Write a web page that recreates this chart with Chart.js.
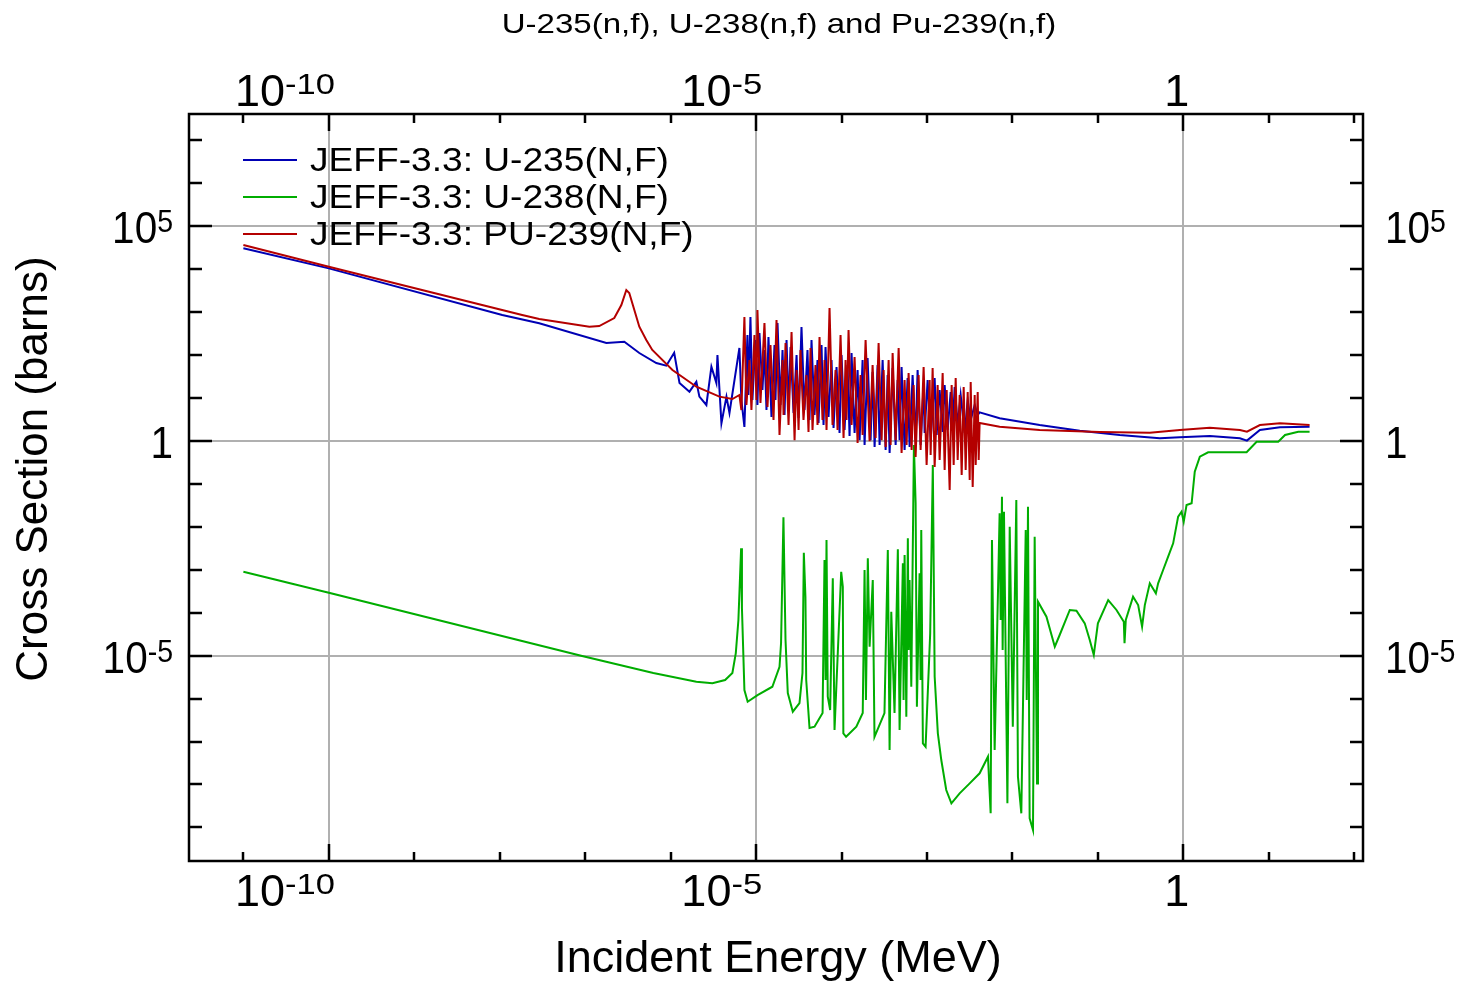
<!DOCTYPE html>
<html>
<head>
<meta charset="utf-8">
<title>U-235(n,f), U-238(n,f) and Pu-239(n,f)</title>
<script src="https://cdn.jsdelivr.net/npm/chart.js@4.4.0/dist/chart.umd.min.js"></script>
<style>
  html, body { margin: 0; padding: 0; background: #fff; }
  #wrap { width: 1474px; height: 982px; }
</style>
</head>
<body>
<div id="wrap"><canvas id="chart" width="1474" height="982"></canvas></div>
<script>
// [energy (MeV), cross section (barns)]
const u235 = [
  [1e-11, 3.08e4], [1e-10, 1.05e4], [1.07e-8, 861], [2.9e-8, 552], [1.77e-7, 192], [2.87e-7, 206],
  [4.3e-7, 112], [6.8e-7, 65.6], [8.9e-7, 56.8], [1.1e-6, 114], [1.27e-6, 22.4], [1.66e-6, 14.1],
  [2.0e-6, 24.1], [2.17e-6, 10.8], [2.62e-6, 6.9], [3.0e-6, 53.8], [3.43e-6, 22.4], [3.53e-6, 101],
  [3.93e-6, 2.58], [4.5e-6, 10.8], [4.88e-6, 4.49], [6.38e-6, 147], [6.73e-6, 9.0],
  [7.30e-6, 2.12], [7.92e-6, 295], [8.13e-6, 11.8], [8.59e-6, 773], [9.06e-6, 9.02], [9.83e-6, 225],
  [1.037e-5, 6.90], [1.095e-5, 328], [1.187e-5, 15.4], [1.253e-5, 132], [1.323e-5, 5.27], [1.396e-5, 265],
  [1.514e-5, 3.62], [1.642e-5, 172], [1.687e-5, 9.02], [1.781e-5, 561], [1.931e-5, 6.90], [2.039e-5, 132],
  [2.152e-5, 4.03], [2.272e-5, 225], [2.398e-5, 5.27], [2.531e-5, 155], [2.745e-5, 4.49], [2.977e-5, 101],
  [3.142e-5, 3.43], [3.399e-5, 453], [3.685e-5, 5.27], [3.996e-5, 132], [4.218e-5, 3.08], [4.452e-5, 225],
  [4.828e-5, 4.03], [5.235e-5, 77.1], [5.378e-5, 2.63], [5.831e-5, 172], [6.155e-5, 2.36], [6.496e-5, 155],
  [7.044e-5, 3.62], [7.638e-5, 77.1], [8.061e-5, 2.01], [8.741e-5, 52.9], [9.478e-5, 1.54], [1.0e-4, 101],
  [1.085e-4, 1.80], [1.176e-4, 58.9], [1.241e-4, 1.31], [1.310e-4, 112], [1.421e-4, 1.54], [1.541e-4, 45.1],
  [1.626e-4, 1.05], [1.763e-4, 77.1], [1.861e-4, 0.807], [2.018e-4, 86.0], [2.188e-4, 1.05], [2.309e-4, 40.5],
  [2.437e-4, 0.725], [2.643e-4, 58.9], [2.789e-4, 0.807], [3.025e-4, 77.1], [3.280e-4, 0.617], [3.461e-4, 34.5],
  [3.653e-4, 0.525], [3.961e-4, 50.2], [4.296e-4, 0.807], [4.534e-4, 26.4], [4.778e-4, 1.05], [5.043e-4, 52.9],
  [5.468e-4, 0.617], [5.930e-4, 29.4], [6.258e-4, 0.725], [6.786e-4, 34.5], [7.358e-4, 1.05], [7.766e-4, 45.1],
  [8.421e-4, 0.807], [9.131e-4, 20.2], [9.381e-4, 1.54], [1.017e-3, 26.4], [1.103e-3, 1.05], [1.229e-3, 29.4],
  [1.297e-3, 1.38], [1.406e-3, 15.4], [1.525e-3, 1.62], [1.609e-3, 20.2], [1.745e-3, 1.80], [1.892e-3, 13.8],
  [1.997e-3, 2.01], [2.108e-3, 18.1], [2.286e-3, 2.36], [2.478e-3, 11.8], [2.761e-3, 1.54], [2.994e-3, 9.02],
  [3.246e-3, 3.08], [3.616e-3, 6.90], [3.921e-3, 4.03], [4.13e-3, 4.66],
  [7.08e-3, 3.38], [2.08e-2, 2.36], [6.14e-2, 1.74], [0.18, 1.38], [0.53, 1.16], [0.91, 1.22],
  [2.04, 1.31], [4.59, 1.16], [5.55, 1.02], [7.87, 1.8], [13.5, 2.08], [30, 2.15]
];

const u238 = [
  [1e-11, 9.0e-4], [1e-10, 2.92e-4], [9.2e-8, 9.8e-6], [6.27e-7, 3.94e-6], [2.0e-6, 2.47e-6], [3.08e-6, 2.27e-6],
  [4.34e-6, 2.71e-6], [5.28e-6, 3.94e-6], [5.79e-6, 1.15e-5], [6.21e-6, 6.76e-5], [6.68e-6, 3.17e-3], [6.83e-6, 1.29e-4],
  [7.3e-6, 1.58e-6], [7.97e-6, 8.46e-7], [1.04e-5, 1.21e-6], [1.55e-5, 1.89e-6], [1.88e-5, 5.53e-6], [1.96e-5, 1.97e-5],
  [2.09e-5, 1.67e-2], [2.21e-5, 2.32e-5], [2.35e-5, 1.35e-6], [2.69e-5, 4.95e-7], [3.22e-5, 7.89e-7], [3.49e-5, 3.94e-6],
  [3.62e-5, 2.5e-3], [3.78e-5, 2.36e-4], [3.86e-5, 2.71e-6], [4.22e-5, 2.06e-7], [4.83e-5, 2.21e-7], [6.0e-5, 4.61e-7],
  [6.32e-5, 1.69e-3], [6.5e-5, 2.71e-6], [6.67e-5, 4.94e-3], [6.9e-5, 1.11e-6], [7.36e-5, 5.42e-7], [7.9e-5, 6.34e-4],
  [8.28e-5, 1.85e-7], [9.91e-5, 9.0e-4], [1.035e-4, 4.04e-4], [1.05e-4, 1.55e-7], [1.13e-4, 1.29e-7], [1.49e-4, 2.21e-7],
  [1.77e-4, 4.61e-7], [1.86e-4, 9.89e-4], [1.93e-4, 9.27e-7], [2.03e-4, 1.85e-3], [2.13e-4, 1.62e-5], [2.32e-4, 5.78e-4],
  [2.43e-4, 1.29e-7], [3.18e-4, 4.61e-7], [3.48e-4, 2.89e-3], [3.65e-4, 6.34e-8], [3.82e-4, 1.06e-4], [4.17e-4, 4.61e-7],
  [4.56e-4, 3.0e-3], [4.78e-4, 1.85e-7], [5.22e-4, 1.42e-3], [5.32e-4, 9.27e-7], [5.47e-4, 2.21e-3], [5.73e-4, 3.78e-7],
  [5.97e-4, 5.42e-3], [6.09e-4, 1.35e-5], [6.25e-4, 5.78e-4], [6.55e-4, 1.89e-6], [7.03e-4, 0.807], [7.36e-4, 3.54e-2],
  [7.62e-4, 6.47e-7], [8.19e-4, 8.28e-4], [8.41e-4, 2.71e-6], [8.57e-4, 8.45e-3], [8.95e-4, 9.08e-8], [9.63e-4, 7.57e-8],
  [1.09e-3, 3.32e-5], [1.17e-3, 0.276], [1.23e-3, 3.24e-6], [1.34e-3, 1.55e-7], [1.47e-3, 3.71e-8], [1.68e-3, 7.42e-9],
  [1.93e-3, 3.64e-9], [2.41e-3, 6.22e-9], [3.16e-3, 1.06e-8], [4.13e-3, 1.82e-8], [5.17e-3, 4.43e-8], [5.56e-3, 2.13e-9],
  [5.76e-3, 4.94e-3], [6.19e-3, 6.34e-8], [7.08e-3, 2.07e-2], [7.28e-3, 6.76e-5], [7.54e-3, 5.04e-2], [7.68e-3, 1.35e-5],
  [7.96e-3, 2.25e-2], [8.73e-3, 3.64e-9], [9.29e-3, 1.01e-2], [1.01e-2, 2.21e-7], [1.11e-2, 4.22e-2], [1.16e-2, 1.51e-8],
  [1.27e-2, 2.13e-9], [1.43e-2, 8.45e-3], [1.47e-2, 9.27e-7], [1.52e-2, 2.95e-2], [1.59e-2, 1.63e-9], [1.74e-2, 8.69e-10],
  [1.82e-2, 5.9e-3], [1.94e-2, 1.06e-8], [1.99e-2, 1.81e-4], [2.5e-2, 8.07e-5], [3.13e-2, 1.62e-5], [3.57e-2, 3.03e-5],
  [4.69e-2, 1.16e-4], [5.61e-2, 1.11e-4], [7.02e-2, 5.67e-5], [8.03e-2, 2.32e-5], [8.95e-2, 1.04e-5], [0.1, 5.67e-5],
  [0.132, 1.98e-4], [0.165, 1.16e-4], [0.201, 6.18e-5], [0.205, 1.94e-5], [0.212, 6.76e-5], [0.258, 2.36e-4],
  [0.296, 1.51e-4], [0.329, 4.72e-5], [0.354, 1.51e-4], [0.405, 4.84e-4], [0.477, 2.83e-4], [0.507, 4.84e-4],
  [0.58, 9.89e-4], [0.664, 2.02e-3], [0.76, 4.14e-3], [0.869, 1.73e-2], [0.953, 2.25e-2], [1.01, 1.32e-2],
  [1.09, 3.23e-2], [1.25, 3.54e-2], [1.36, 0.193], [1.56, 0.431], [1.95, 0.546], [5.5, 0.546],
  [7.2, 0.963], [12.9, 0.963], [15.5, 1.38], [22.1, 1.65], [30, 1.65]
];

const pu239 = [
  [1e-11, 3.68e4], [1e-10, 1.15e4], [1.83e-8, 861], [2.9e-8, 695], [1.12e-7, 460], [1.46e-7, 477],
  [2.19e-7, 733], [2.65e-7, 1470], [3.03e-7, 3.29e3], [3.28e-7, 2.8e3], [3.76e-7, 1.13e3], [4.3e-7, 460],
  [5.19e-7, 225], [6.1e-7, 132], [1.05e-6, 45.1], [2.0e-6, 18.4], [3.72e-6, 10.8], [5.28e-6, 9.5],
  [6.38e-6, 11.8], [6.73e-6, 5.27],
  [7.30e-6, 773], [7.71e-6, 6.90], [8.36e-6, 77.1], [8.82e-6, 5.27], [9.57e-6, 295], [1.010e-5, 9.02],
  [1.037e-5, 1125], [1.125e-5, 7.68], [1.253e-5, 561], [1.359e-5, 6.2], [1.474e-5, 172], [1.599e-5, 3.08],
  [1.734e-5, 659], [1.880e-5, 1.38], [2.039e-5, 77.1], [2.095e-5, 4.03], [2.211e-5, 191], [2.398e-5, 2.36],
  [2.600e-5, 346], [2.820e-5, 1.05], [2.977e-5, 45.1], [3.142e-5, 1.80], [3.308e-5, 132], [3.587e-5, 3.08],
  [3.890e-5, 34.5], [4.106e-5, 1.62], [4.333e-5, 147], [4.574e-5, 1.80], [4.960e-5, 58.9], [5.235e-5, 2.36],
  [5.525e-5, 265], [5.991e-5, 3.08], [6.323e-5, 77.1], [6.674e-5, 1.80], [7.237e-5, 1252], [7.847e-5, 2.36],
  [8.508e-5, 45.1], [8.980e-5, 1.80], [9.737e-5, 295], [1.056e-4, 1.17], [1.114e-4, 77.1], [1.145e-4, 3.08],
  [1.208e-4, 385], [1.310e-4, 2.36], [1.421e-4, 90.7], [1.541e-4, 0.898], [1.670e-4, 34.5], [1.763e-4, 1.38],
  [1.912e-4, 225], [2.130e-4, 0.995], [2.309e-4, 58.9], [2.504e-4, 1.17], [2.715e-4, 191], [2.944e-4, 1.05],
  [3.107e-4, 45.1], [3.280e-4, 0.725], [3.556e-4, 77.1], [3.753e-4, 0.807], [3.961e-4, 112], [4.296e-4, 1.05],
  [4.658e-4, 147], [5.043e-4, 0.525], [5.468e-4, 26.4], [5.772e-4, 0.807], [6.092e-4, 38.4], [6.605e-4, 0.617],
  [6.972e-4, 20.2], [7.358e-4, 0.424], [7.979e-4, 34.5], [8.421e-4, 0.617], [9.131e-4, 52.9], [9.901e-4, 0.276],
  [1.074e-3, 26.4], [1.103e-3, 0.472], [1.164e-3, 50.2], [1.229e-3, 0.248], [1.332e-3, 20.2], [1.406e-3, 0.361],
  [1.525e-3, 38.4], [1.609e-3, 0.211], [1.699e-3, 15.4], [1.842e-3, 0.0722], [1.944e-3, 20.2], [2.052e-3, 0.276],
  [2.166e-3, 29.4], [2.286e-3, 0.361], [2.412e-3, 11.8], [2.546e-3, 0.161], [2.687e-3, 18.1], [2.836e-3, 0.211],
  [2.994e-3, 13.8], [3.160e-3, 0.123], [3.246e-3, 23.7], [3.426e-3, 0.0848], [3.616e-3, 11.8], [3.715e-3, 0.276],
  [3.921e-3, 13.8], [4.028e-3, 0.361], [4.13e-3, 2.63],
  [7.08e-3, 2.15], [2.08e-2, 1.8], [0.105, 1.62], [0.405, 1.56], [0.91, 1.8], [2.04, 2.04],
  [4.59, 1.8], [5.55, 1.65], [7.87, 2.36], [13.5, 2.58], [30, 2.36]
];

const seriesNames = ['JEFF-3.3: U-235(N,F)', 'JEFF-3.3: U-238(N,F)', 'JEFF-3.3: PU-239(N,F)'];
const seriesColors = ['#0000b4', '#00ad00', '#b40000'];
const chartTitle = 'U-235(n,f), U-238(n,f) and Pu-239(n,f)';
const xTitle = 'Incident Energy (MeV)';
const yTitle = 'Cross Section (barns)';

// axis decades: every decade gets a tick, a few get a label and a grid line
const xTickDecades = [-11, -10, -9, -8, -7, -6, -5, -4, -3, -2, -1, 0, 1, 2];
const yTickDecades = [-9, -8, -7, -6, -5, -4, -3, -2, -1, 0, 1, 2, 3, 4, 5, 6, 7];
const xLabelDecades = [-10, -5, 0];
const yLabelDecades = [5, 0, -5];

const FONT = '"Liberation Sans", Arial, Helvetica, sans-serif';

function textAt(ctx, str, x, y, size, align, sx) {
  sx = sx || 1;
  ctx.save();
  ctx.font = size + 'px ' + FONT;
  const w = ctx.measureText(str).width * sx;
  const left = align === 'center' ? x - w / 2 : align === 'right' ? x - w : x;
  ctx.translate(left, y);
  ctx.scale(sx, 1);
  ctx.fillStyle = '#000';
  ctx.textAlign = 'left';
  ctx.textBaseline = 'alphabetic';
  ctx.fillText(str, 0, 0);
  ctx.restore();
  return w;
}

function widthOf(ctx, str, size, sx) {
  ctx.font = size + 'px ' + FONT;
  return ctx.measureText(str).width * (sx || 1);
}

// "10" with a raised exponent, or "1" for 10^0
function powerLabel(ctx, exp, x, y, align, base, sup, rise, sx, supSx) {
  const b = exp === 0 ? '1' : '10';
  const s = exp === 0 ? '' : String(exp);
  const wb = widthOf(ctx, b, base, sx);
  const ws = s ? widthOf(ctx, s, sup, supSx) : 0;
  const total = wb + ws;
  const left = align === 'right' ? x - total : align === 'center' ? x - total / 2 : x;
  textAt(ctx, b, left, y, base, 'left', sx);
  if (s) textAt(ctx, s, left + wb, y - rise, sup, 'left', supSx);
}

const framePlugin = {
  id: 'frame',
  afterDraw(chart) {
    const { ctx, chartArea: a } = chart;
    const xs = chart.scales.x, ys = chart.scales.y;
    ctx.save();
    ctx.strokeStyle = '#000';
    ctx.lineWidth = 2.5;
    ctx.strokeRect(a.left, a.top, a.right - a.left, a.bottom - a.top);

    ctx.beginPath();
    xTickDecades.forEach(d => {
      const px = Math.round(xs.getPixelForValue(Math.pow(10, d)));
      const len = xLabelDecades.includes(d) ? 17 : 9;
      ctx.moveTo(px, a.bottom); ctx.lineTo(px, a.bottom - len);
      ctx.moveTo(px, a.top); ctx.lineTo(px, a.top + len);
    });
    yTickDecades.forEach(d => {
      const py = Math.round(ys.getPixelForValue(Math.pow(10, d)));
      const len = yLabelDecades.includes(d) ? 23 : 13;
      ctx.moveTo(a.left, py); ctx.lineTo(a.left + len, py);
      ctx.moveTo(a.right, py); ctx.lineTo(a.right - len, py);
    });
    ctx.stroke();

    // tick labels
    xLabelDecades.forEach(d => {
      const px = xs.getPixelForValue(Math.pow(10, d));
      powerLabel(ctx, d, px + 6, a.bottom + 45, 'right', 45, 30, 12, 1.0, 1.15);
      powerLabel(ctx, d, px + 6, a.top - 8, 'right', 45, 30, 12, 1.0, 1.15);
    });
    yLabelDecades.forEach(d => {
      const py = ys.getPixelForValue(Math.pow(10, d));
      powerLabel(ctx, d, a.left - 16, py + 17, 'right', 44, 31, 11, 0.92, 0.92);
      powerLabel(ctx, d, a.right + 22, py + 17, 'left', 44, 31, 11, 0.92, 0.92);
    });

    // axis titles
    textAt(ctx, xTitle, (a.left + a.right) / 2 + 2, 972, 45, 'center', 1);
    ctx.save();
    ctx.translate(47, 469);
    ctx.rotate(-Math.PI / 2);
    textAt(ctx, yTitle, 0, 0, 44, 'center', 1);
    ctx.restore();

    // chart title
    textAt(ctx, chartTitle, 779, 33, 28, 'center', 1.18);

    // legend inside the plot, top left
    const rows = [160, 197, 234];
    seriesNames.forEach((name, i) => {
      ctx.strokeStyle = seriesColors[i];
      ctx.lineWidth = 2;
      ctx.beginPath();
      ctx.moveTo(243, rows[i]); ctx.lineTo(297, rows[i]);
      ctx.stroke();
      textAt(ctx, name, 310, rows[i] + 11, 33, 'left', 1.125);
    });
    ctx.restore();
  }
};

const toPoints = arr => arr.map(p => ({ x: p[0], y: p[1] }));

new Chart(document.getElementById('chart'), {
  type: 'line',
  data: {
    datasets: [
      { label: seriesNames[0], data: toPoints(u235), borderColor: seriesColors[0], order: 2 },
      { label: seriesNames[1], data: toPoints(u238), borderColor: seriesColors[1], order: 1 },
      { label: seriesNames[2], data: toPoints(pu239), borderColor: seriesColors[2], order: 0 }
    ]
  },
  options: {
    responsive: false,
    animation: false,
    devicePixelRatio: 1,
    layout: { padding: { left: 189, right: 111, top: 114, bottom: 121 } },
    elements: {
      point: { radius: 0 },
      line: { borderWidth: 2, tension: 0, fill: false }
    },
    plugins: {
      legend: { display: false },
      title: { display: false },
      tooltip: { enabled: false }
    },
    scales: {
      x: {
        type: 'logarithmic',
        min: 2.31e-12,
        max: 126.6,
        ticks: { display: false },
        grid: { color: '#b0b0b0', lineWidth: 2, drawTicks: false },
        border: { display: false },
        afterBuildTicks: s => { s.ticks = xLabelDecades.map(d => ({ value: Math.pow(10, d) })); },
        afterFit: s => { s.height = 0; }
      },
      y: {
        type: 'logarithmic',
        min: 1.65e-10,
        max: 4.14e7,
        ticks: { display: false },
        grid: { color: '#b0b0b0', lineWidth: 2, drawTicks: false },
        border: { display: false },
        afterBuildTicks: s => { s.ticks = yLabelDecades.map(d => ({ value: Math.pow(10, d) })); },
        afterFit: s => { s.width = 0; }
      }
    }
  },
  plugins: [framePlugin]
});
</script>
</body>
</html>
